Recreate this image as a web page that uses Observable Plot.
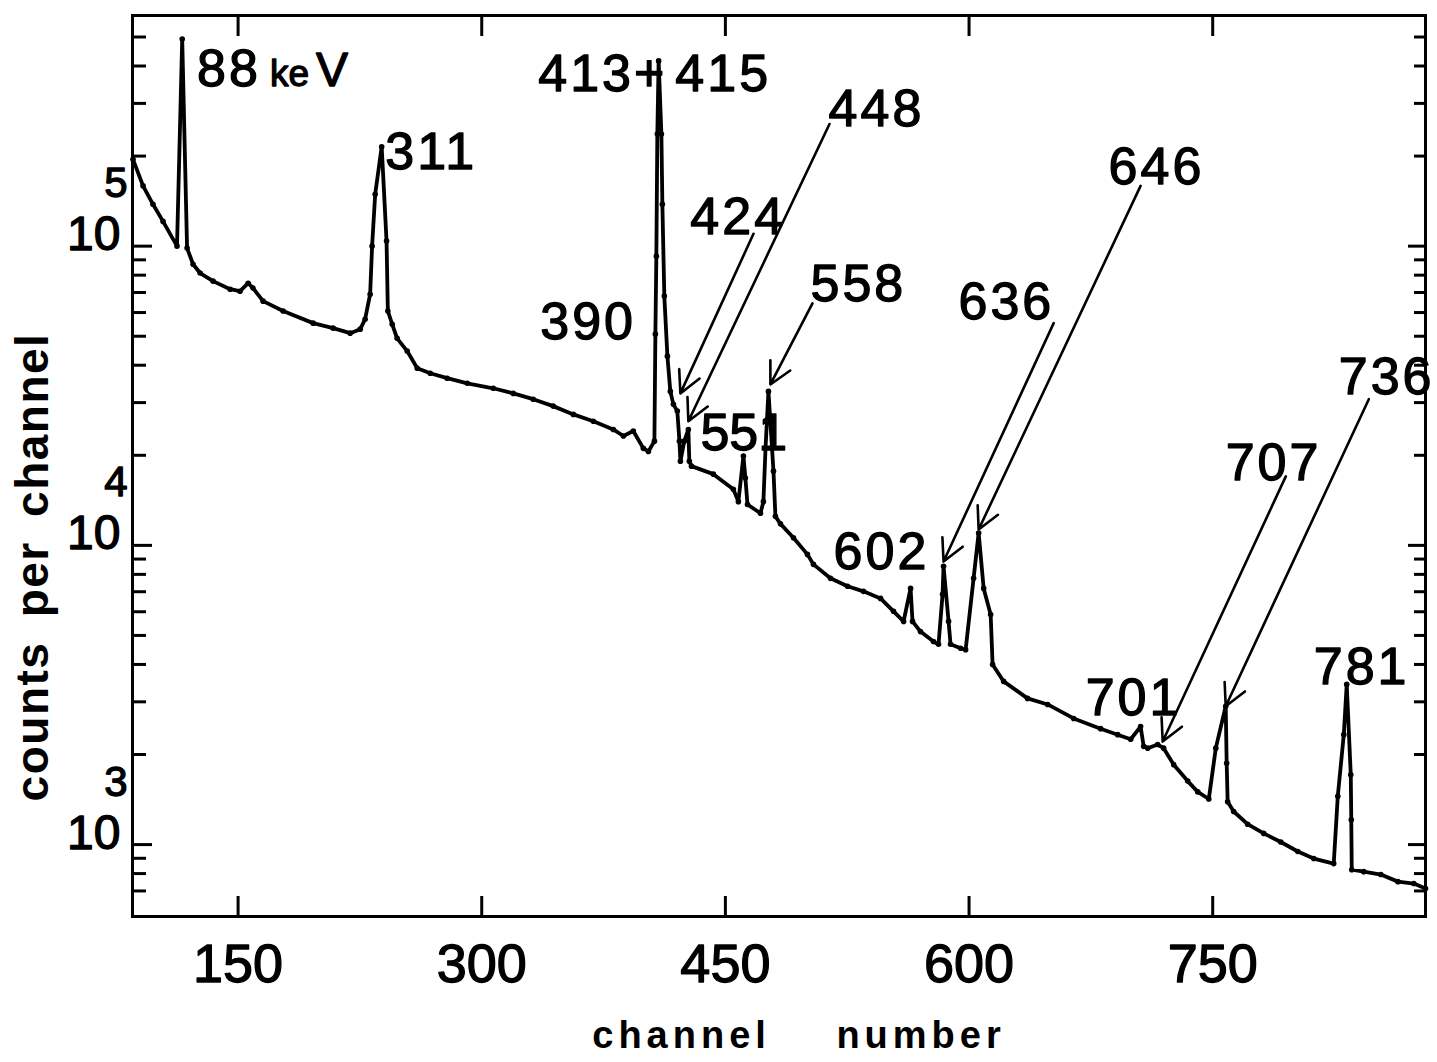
<!DOCTYPE html>
<html>
<head>
<meta charset="utf-8">
<script src="https://cdn.jsdelivr.net/npm/d3@7"></script>
<script src="https://cdn.jsdelivr.net/npm/@observablehq/plot@0.6"></script>
<style>
  html, body { margin: 0; padding: 0; background: #fff; }
</style>
</head>
<body>
<div id="chart"></div>
<script>
// ---- Spectrum (channel number vs counts per channel) ----
const channel = [
  85.3, 91.5, 97.6, 103.8, 112.4, 115.6, 118.6, 122.3, 126.6, 134.6,
  145.1, 151.2, 156.2, 159.2, 165.4, 177.7, 196.2, 208.5, 219.0, 225.2,
  228.2, 231.3, 232.5, 234.4, 238.4, 241.4, 242.2, 244.9, 247.9, 254.1,
  260.3, 268.3, 278.7, 291.1, 307.1, 319.4, 331.7, 344.0, 356.4, 368.7,
  381.0, 387.2, 393.3, 399.5, 402.6, 406.3, 406.9, 407.5, 408.1, 408.9,
  410.6, 411.2, 412.4, 414.3, 416.1, 418.0, 420.4, 421.7, 422.3, 424.7,
  427.2, 427.8, 429.1, 442.6, 454.9, 458.0, 461.1, 462.3, 463.6, 471.6,
  473.4, 474.7, 476.5, 479.6, 480.8, 483.9, 491.9, 500.5, 504.2, 514.7,
  525.2, 535.0, 545.5, 553.5, 559.7, 564.0, 565.2, 570.1, 578.1, 581.2,
  583.7, 584.3, 587.4, 588.6, 594.8, 597.9, 602.8, 605.9, 609.0, 613.3,
  614.5, 621.3, 636.0, 648.4, 664.4, 681.0, 691.5, 699.5, 705.6, 707.5,
  710.0, 716.1, 719.8, 726.0, 734.6, 740.8, 747.6, 751.9, 758.0, 758.6,
  759.2, 762.9, 771.5, 781.4, 791.9, 802.4, 812.2, 824.5, 827.0, 830.7,
  832.5, 835.0, 835.3, 835.6, 843.0, 853.5, 864.0, 873.8, 881.0
];
const counts = [
  195000, 159000, 138000, 121000, 100000, 492000, 98500, 87000, 81300, 76400,
  71800, 70700, 75200, 72400, 65500, 60700, 55300, 53200, 51200, 52800,
  57000, 69100, 100000, 149000, 215000, 104000, 60700, 54800, 49200, 44600,
  39100, 37600, 36200, 34800, 33500, 32200, 30800, 29200, 27400, 26000,
  24400, 23200, 24100, 21100, 20600, 22300, 50800, 92600, 237000, 416000,
  237000, 138000, 68100, 42900, 32700, 29600, 28100, 22300, 19100, 22300,
  24400, 19100, 18400, 17300, 15400, 14000, 19900, 16800, 13700, 12800,
  14000, 21100, 32700, 17700, 12500, 11800, 10600, 9330, 8640, 7760,
  7300, 7020, 6650, 6020, 5570, 7180, 5570, 5150, 4770, 4670,
  6860, 8510, 5570, 4670, 4530, 4480, 7760, 11000, 7180, 5870,
  4000, 3510, 3080, 2940, 2640, 2440, 2330, 2250, 2480, 2130,
  2100, 2160, 2100, 1850, 1630, 1500, 1420, 2100, 2900, 1870,
  1390, 1290, 1170, 1090, 1020, 948, 898, 864, 1450, 2330,
  3430, 1710, 1210, 824, 812, 794, 752, 741, 713
];

// ---- Peak labels (keV) ----
const peakLabels   = ["88", "311", "413+", "415", "390", "424", "448", "551", "558", "602", "636", "646", "701", "707", "736", "781"];
const labelChannel = [124.7, 240.6, 334.8, 419.2, 336.0, 428.4, 513.5, 434.6, 502.4, 516.6, 593.5, 685.9, 671.8, 758.0, 827.6, 812.2];
const labelCounts  = [343000, 181000, 330000, 330000, 48900, 110000, 252000, 20900, 65500, 8320, 57000, 161000, 2720, 16600, 32000, 3430];
const unitChannel = [124.7];
const unitCounts  = [343000];

// ---- Arrows from labels to peaks ----
const arrowFromChannel = [467.3, 514.1, 503.6, 652.1, 705.6, 795.0, 846.1];
const arrowFromCounts  = [110000, 256000, 64400, 55300, 159000, 17000, 30800];
const arrowToChannel   = [422.3, 427.2, 477.7, 584.3, 605.9, 719.2, 758.0];
const arrowToCounts    = [32200, 26000, 34500, 8830, 11300, 2210, 2900];

// ---- Axes ----
const xDomain = [85, 881];
const yDomain = [575, 590000];
const xTicks = [150, 300, 450, 600, 750];
const yMajorTicks = [1e3, 1e4, 1e5];
const yExponents = ["3", "4", "5"];
const yMinorTicks = [700, 800, 900,
  2e3, 3e3, 4e3, 5e3, 6e3, 7e3, 8e3, 9e3,
  2e4, 3e4, 4e4, 5e4, 6e4, 7e4, 8e4, 9e4,
  2e5, 3e5, 4e5, 5e5];
const xTitle = "channel number";
const yTitle = "counts per channel";

const spectrum = channel.map((c, i) => ({c, n: counts[i]}));
const labels = peakLabels.map((t, i) => ({t, c: labelChannel[i], n: labelCounts[i]}));
const units = unitChannel.map((c, i) => ({c, n: unitCounts[i]}));
const arrows = arrowFromChannel.map((c, i) => ({
  x1: c, y1: arrowFromCounts[i], x2: arrowToChannel[i], y2: arrowToCounts[i]
}));

const font = "'Liberation Sans', Arial, Helvetica, sans-serif";
const blank = () => "";
const ink = {fill: "#000", stroke: "#000", strokeWidth: 1.3};

const chart = Plot.plot({
  width: 1437,
  height: 1062,
  marginLeft: 132,
  marginRight: 12,
  marginTop: 15,
  marginBottom: 146,
  style: {fontFamily: font, background: "#fff", color: "#000"},
  x: {domain: xDomain},
  y: {type: "log", domain: yDomain},
  marks: [
    Plot.frame({stroke: "#000", strokeWidth: 3}),
    // inward ticks
    Plot.axisX({anchor: "bottom", ticks: xTicks, tickSize: -20, strokeWidth: 3, tickFormat: blank, label: null}),
    Plot.axisX({anchor: "top", ticks: xTicks, tickSize: -20, strokeWidth: 3, tickFormat: blank, label: null}),
    Plot.axisY({anchor: "left", ticks: yMajorTicks, tickSize: -20, strokeWidth: 3, tickFormat: blank, label: null}),
    Plot.axisY({anchor: "left", ticks: yMinorTicks, tickSize: -14, strokeWidth: 3, tickFormat: blank, label: null}),
    Plot.axisY({anchor: "right", ticks: yMajorTicks, tickSize: -18, strokeWidth: 3, tickFormat: blank, label: null}),
    Plot.axisY({anchor: "right", ticks: yMinorTicks, tickSize: -12, strokeWidth: 3, tickFormat: blank, label: null}),
    // x tick labels
    Plot.text(xTicks, {x: d => d, frameAnchor: "bottom", text: d => String(d), textAnchor: "middle", lineAnchor: "top", dy: 27, fontSize: 54, ...ink}),
    // y tick labels: "10" with the exponent written above it
    Plot.text(yMajorTicks, {y: d => d, frameAnchor: "left", text: () => "10", textAnchor: "end", lineAnchor: "bottom", dx: -12, dy: 4, fontSize: 48, ...ink}),
    Plot.text(yMajorTicks, {y: d => d, frameAnchor: "left", text: (d, i) => yExponents[i], textAnchor: "end", lineAnchor: "bottom", dx: -5, dy: -49, fontSize: 42, ...ink}),
    // titles
    Plot.text([xTitle], {text: d => d, frameAnchor: "bottom", textAnchor: "middle", lineAnchor: "bottom", dx: 20, dy: 131, fontSize: 38, fontWeight: "bold", fill: "#000"}),
    Plot.text([yTitle], {text: d => d, frameAnchor: "left", rotate: -90, textAnchor: "middle", lineAnchor: "bottom", dx: -85, dy: 101, fontSize: 46, fontWeight: "bold", fill: "#000"}),
    // spectrum
    Plot.line(spectrum, {x: "c", y: "n", stroke: "#000", strokeWidth: 3.8, strokeLinejoin: "round"}),
    Plot.dot(spectrum, {x: "c", y: "n", r: 2.8, fill: "#000"}),
    // arrows
    Plot.arrow(arrows, {x1: "x1", y1: "y1", x2: "x2", y2: "y2", stroke: "#000", strokeWidth: 2.6, headLength: 14, headAngle: 55}),
    // labels
    Plot.text(labels, {x: "c", y: "n", text: "t", textAnchor: "start", lineAnchor: "bottom", fontSize: 52, ...ink}),
    Plot.text(units, {x: "c", y: "n", text: () => "ke", textAnchor: "start", lineAnchor: "bottom", dx: 73, fontSize: 37, ...ink}),
    Plot.text(units, {x: "c", y: "n", text: () => "V", textAnchor: "start", lineAnchor: "bottom", dx: 119, fontSize: 48, ...ink})
  ]
});

// letter spacing for the hand-lettered look of the original
const labelSet = new Set(peakLabels);
d3.select(chart).selectAll("text").each(function() {
  const t = this.textContent;
  if (t === xTitle) { this.style.letterSpacing = "5px"; this.style.wordSpacing = "50px"; }
  else if (t === yTitle) { this.style.letterSpacing = "1.5px"; this.style.wordSpacing = "10px"; }
  else if (t === "551") { this.style.letterSpacing = "0px"; }
  else if (labelSet.has(t)) { this.style.letterSpacing = "3px"; }
});

document.getElementById("chart").appendChild(chart);
</script>
</body>
</html>
